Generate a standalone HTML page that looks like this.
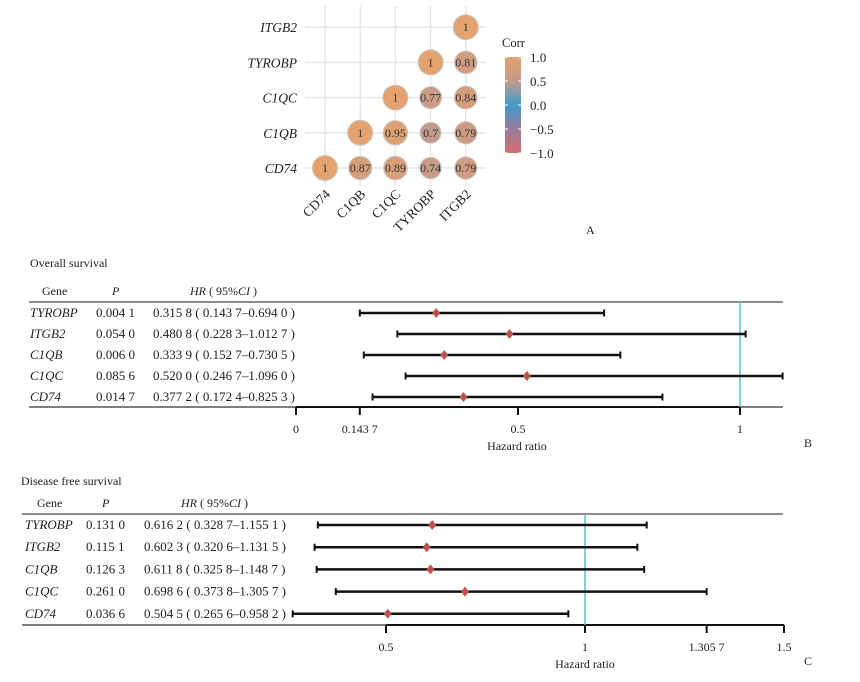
<!DOCTYPE html>
<html><head><meta charset="utf-8"><style>
body{margin:0;background:#fff}
svg{display:block;font-family:"Liberation Serif",serif}
</style></head><body>
<svg id="fig" width="860" height="682" viewBox="0 0 860 682">
<defs><linearGradient id="cg" x1="0" y1="0" x2="0" y2="1">
<stop offset="0" stop-color="#e3a26e"/><stop offset="0.25" stop-color="#c49a8c"/><stop offset="0.5" stop-color="#3f9ccc"/><stop offset="0.75" stop-color="#9a7b98"/><stop offset="1" stop-color="#d07070"/></linearGradient></defs>
<g id="corr"></g>
<g id="fb"></g>
<g id="fc"></g>
</svg>
<script>
const corrGenes=["CD74","C1QB","C1QC","TYROBP","ITGB2"];
const corrValues=[[1],[0.87,1],[0.89,0.95,1],[0.74,0.7,0.77,1],[0.79,0.79,0.84,0.81,1]]; // corrValues[col][row]
const osGenes=["TYROBP","ITGB2","C1QB","C1QC","CD74"];
const osP=["0.004 1","0.054 0","0.006 0","0.085 6","0.014 7"];
const osHR=[0.3158,0.4808,0.3339,0.5200,0.3772];
const osLo=[0.1437,0.2283,0.1527,0.2467,0.1724];
const osHi=[0.6940,1.0127,0.7305,1.0960,0.8253];
const osHRText=["0.315 8 ( 0.143 7–0.694 0 )","0.480 8 ( 0.228 3–1.012 7 )","0.333 9 ( 0.152 7–0.730 5 )","0.520 0 ( 0.246 7–1.096 0 )","0.377 2 ( 0.172 4–0.825 3 )"];
const osTicks=[0,0.1437,0.5,1];const osTickLabels=["0","0.143 7","0.5","1"];
const dfsGenes=["TYROBP","ITGB2","C1QB","C1QC","CD74"];
const dfsP=["0.131 0","0.115 1","0.126 3","0.261 0","0.036 6"];
const dfsHR=[0.6162,0.6023,0.6118,0.6986,0.5045];
const dfsLo=[0.3287,0.3206,0.3258,0.3738,0.2656];
const dfsHi=[1.1551,1.1315,1.1487,1.3057,0.9582];
const dfsHRText=["0.616 2 ( 0.328 7–1.155 1 )","0.602 3 ( 0.320 6–1.131 5 )","0.611 8 ( 0.325 8–1.148 7 )","0.698 6 ( 0.373 8–1.305 7 )","0.504 5 ( 0.265 6–0.958 2 )"];
const dfsTicks=[0.5,1,1.3057,1.5];const dfsTickLabels=["0.5","1","1.305 7","1.5"];
const legendTicks=[1,0.5,0,-0.5,-1];const legendLabels=["1.0","0.5","0.0","−0.5","−1.0"];

const NS="http://www.w3.org/2000/svg";
function mk(p,t,a,txt){const e=document.createElementNS(NS,t);for(const k in a)e.setAttribute(k,a[k]);if(txt!==undefined)e.textContent=txt;p.appendChild(e);return e;}

const C=document.getElementById('corr');
const cx=i=>325+i*35.2, cy=j=>168-j*35.2;
for(let i=0;i<5;i++){
 mk(C,'line',{x1:cx(i),x2:cx(i),y1:6,y2:186,stroke:'#e6e6e6','stroke-width':1.5});
 mk(C,'line',{x1:305,x2:486,y1:cy(i),y2:cy(i),stroke:'#e6e6e6','stroke-width':1.5});
}
function col(v){const t=Math.min(1,(1-v)*3.3);return `rgb(${Math.round(227-(227-196)*t)},${Math.round(162-(162-154)*t)},${Math.round(110+(140-110)*t)})`;}
for(let i=0;i<5;i++){
 let t=mk(C,'text',{x:297,y:cy(i)+5,'text-anchor':'end','font-size':13.5,'font-style':'italic',fill:'#222'},corrGenes[i]);
 
 
 let t2=mk(C,'text',{x:0,y:0,'text-anchor':'end','font-size':13.5,fill:'#222',transform:`translate(${cx(i)+6},${195}) rotate(-45)`},corrGenes[i]);
 
 
 for(let j=0;j<=i;j++){
  const v=corrValues[i][j];const r=12.5*Math.sqrt(Math.abs(v));
  const c=mk(C,'circle',{cx:cx(i),cy:cy(j),r:r,fill:col(v),stroke:'#c8c8c8','stroke-width':1});
  
  
  mk(C,'text',{x:cx(i),y:cy(j)+4,'text-anchor':'middle','font-size':12,fill:'#333'},String(v));
 }
}
let lg=mk(C,'text',{x:502,y:47,'font-size':12.5,fill:'#222'},'Corr');


let lb=mk(C,'rect',{x:505,y:57,width:16,height:96,fill:'url(#cg)'});


legendTicks.forEach((v,k)=>{const y=105-v*48;mk(C,'line',{x1:505,x2:508,y1:y,y2:y,stroke:'#fff'});mk(C,'line',{x1:518,x2:521,y1:y,y2:y,stroke:'#fff'});mk(C,'text',{x:530,y:y+5,'font-size':13,fill:'#222'},legendLabels[k]);});
mk(C,'text',{x:586,y:234,'font-size':12,fill:'#222'},'A');

function forest(G,o){
 const sx=v=>o.x0+(v-o.v0)*o.k;
 mk(G,'text',{x:o.tx,y:o.titleY,'font-size':12,fill:'#222'},o.title);
 const hy=o.top-7;
 mk(G,'text',{x:o.gx+12,y:hy,'font-size':12,fill:'#222'},'Gene');
 mk(G,'text',{x:o.px+16,y:hy,'font-size':12,'font-style':'italic',fill:'#222'},'P');
 const h=mk(G,'text',{x:o.hx+37,y:hy,'font-size':12,fill:'#222'});h.innerHTML='<tspan font-style="italic">HR</tspan> ( 95%<tspan font-style="italic">CI</tspan> )';
 mk(G,'line',{x1:o.lx,x2:783,y1:o.top,y2:o.top,stroke:'#666','stroke-width':1.5});
 mk(G,'line',{x1:o.lx,x2:783,y1:o.bot,y2:o.bot,stroke:'#555','stroke-width':1.5});
 const ax=mk(G,'line',{x1:sx(o.ticks[0]),x2:sx(o.ticks[o.ticks.length-1]),y1:o.bot,y2:o.bot,stroke:'#111','stroke-width':2});
 
 
 const ref=mk(G,'line',{x1:sx(1),x2:sx(1),y1:o.top,y2:o.bot,stroke:'#5cc0c8','stroke-width':1.5});
 
 
 o.ticks.forEach((v,k)=>{mk(G,'line',{x1:sx(v),x2:sx(v),y1:o.bot,y2:o.bot+8,stroke:'#111','stroke-width':2});mk(G,'text',{x:sx(v),y:o.bot+26,'text-anchor':'middle','font-size':12,fill:'#222'},o.tl[k]);});
 const xt=mk(G,'text',{x:o.xtx,y:o.bot+43,'text-anchor':'middle','font-size':12,fill:'#222'},'Hazard ratio');
 
 
 mk(G,'text',{x:804,y:o.bot+40,'font-size':12,fill:'#222'},o.letter);
 o.genes.forEach((g,i)=>{
  const y=o.top+11+i*o.step;
  mk(G,'text',{x:o.gx,y:y+4,'font-size':13,'font-style':'italic',fill:'#222'},g);
  mk(G,'text',{x:o.px,y:y+4,'font-size':13,fill:'#222'},o.p[i]);
  mk(G,'text',{x:o.hx,y:y+4,'font-size':13,fill:'#222'},o.hrt[i]);
  const l=mk(G,'line',{x1:sx(o.lo[i]),x2:sx(o.hi[i]),y1:y,y2:y,stroke:'#111','stroke-width':2.5});
  
  
  mk(G,'line',{x1:sx(o.lo[i]),x2:sx(o.lo[i]),y1:y-3.5,y2:y+3.5,stroke:'#111','stroke-width':2});
  mk(G,'line',{x1:sx(o.hi[i]),x2:sx(o.hi[i]),y1:y-3.5,y2:y+3.5,stroke:'#111','stroke-width':2});
  const d=mk(G,'path',{d:`M${sx(o.hr[i])},${y-5}l4,5l-4,5l-4,-5z`,fill:'#c0504d'});
  
  
 });
}
forest(document.getElementById('fb'),{x0:296,v0:0,k:444,step:21,title:'Overall survival',tx:30,titleY:267,top:302,bot:407,lx:29,gx:30,px:96,hx:153,genes:osGenes,p:osP,hr:osHR,lo:osLo,hi:osHi,hrt:osHRText,ticks:osTicks,tl:osTickLabels,xtx:517,letter:'B'});
forest(document.getElementById('fc'),{x0:386,v0:0.5,k:398,step:22.2,title:'Disease free survival',tx:21,titleY:485,top:514,bot:625,lx:22,gx:25,px:86,hx:144,genes:dfsGenes,p:dfsP,hr:dfsHR,lo:dfsLo,hi:dfsHi,hrt:dfsHRText,ticks:dfsTicks,tl:dfsTickLabels,xtx:585,letter:'C'});
</script>
</body></html>
